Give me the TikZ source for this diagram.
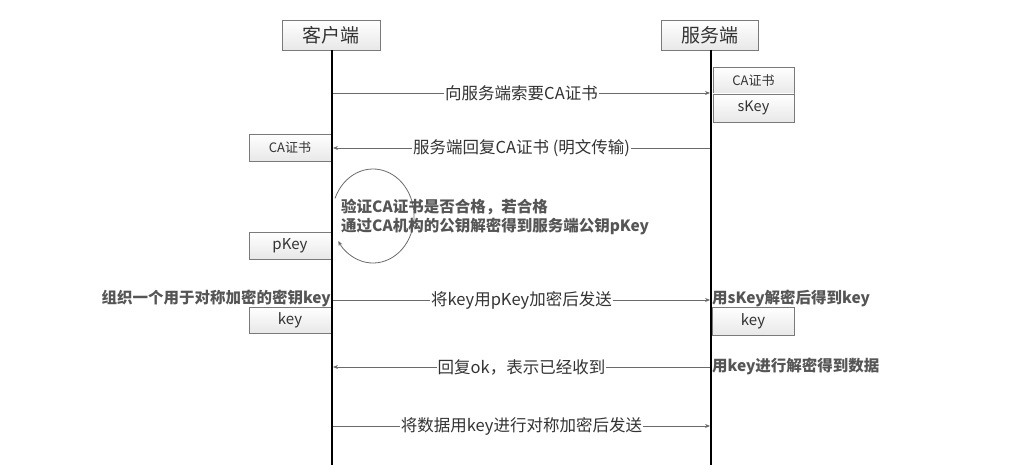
\documentclass[tikz,border=0pt]{standalone}
\usepackage{fontspec}
\setmainfont{Noto Sans CJK SC}
\newfontfamily\cjk{Noto Sans CJK SC}
\usetikzlibrary{arrows.meta,shadows}
\definecolor{boxline}{HTML}{7A7A7A}
\definecolor{boxbot}{HTML}{E8E8E8}
\definecolor{msgline}{HTML}{6A6A6A}
\definecolor{msgtext}{HTML}{333333}
\definecolor{notetext}{HTML}{555555}
\tikzset{
  objbox/.style={draw=boxline, line width=0.8pt, top color=white, bottom color=boxbot,
    drop shadow={opacity=0.25, shadow xshift=1pt, shadow yshift=-1pt},
    inner sep=0pt, text=msgtext, font=\cjk},
  lifeline/.style={line width=2pt, black},
  msg/.style={draw=msgline, line width=0.8pt, -{Stealth[length=5pt,width=4pt]}},
  msglabel/.style={fill=white, inner sep=1pt, text=msgtext, font=\cjk\fontsize{16.5}{18}\selectfont},
  note/.style={inner sep=0pt, text=notetext, font=\cjk\bfseries\fontsize{15.5}{19}\selectfont, align=left}
}
\begin{document}
\begin{tikzpicture}[x=1pt,y=-1pt]
\useasboundingbox (0,0) rectangle (1010,473);
% headers
\node[objbox, minimum width=98pt, minimum height=30pt, font=\cjk\fontsize{19}{20}\selectfont] (client) at (331,35) {客户端};
\node[objbox, minimum width=97pt, minimum height=30pt, font=\cjk\fontsize{19}{20}\selectfont] (server) at (709.5,35) {服务端};
% server side boxes
\node[objbox, minimum width=81pt, minimum height=27pt, font=\cjk\fontsize{13}{14}\selectfont] (sCA) at (753.5,80.5) {CA证书};
\node[objbox, minimum width=81pt, minimum height=28pt, font=\cjk\fontsize{14.5}{15}\selectfont] (sKey) at (753.5,108) {sKey};
\node[objbox, minimum width=82pt, minimum height=28pt, font=\cjk\fontsize{15}{16}\selectfont] (sK) at (753,321) {key};
% client side boxes
\node[objbox, minimum width=82pt, minimum height=27pt, font=\cjk\fontsize{13}{14}\selectfont] (cCA) at (290,147.5) {CA证书};
\node[objbox, minimum width=82pt, minimum height=27pt, font=\cjk\fontsize{15}{16}\selectfont] (pKey) at (290,245.5) {pKey};
\node[objbox, minimum width=82pt, minimum height=26pt, font=\cjk\fontsize{15}{16}\selectfont] (cK) at (290,320) {key};
% lifelines
\coordinate (cEnd) at (332,465);
\coordinate (sEnd) at (711,465);
\draw[lifeline] (332,50) -- (cEnd);
\draw[lifeline] (711,50) -- (sEnd);
% message anchor points
\coordinate (c1) at (333,93);  \coordinate (s1) at (710,93);
\coordinate (c2) at (333,148); \coordinate (s2) at (710,148);
\coordinate (c3) at (333,300); \coordinate (s3) at (710,300);
\coordinate (c4) at (333,367); \coordinate (s4) at (710,367);
\coordinate (c5) at (333,426); \coordinate (s5) at (710,426);
\draw[msg] (c1) -- node[msglabel] (m1) {向服务端索要CA证书} (s1);
\draw[msg] (s2) -- node[msglabel] (m2) {服务端回复CA证书 (明文传输)} (c2);
\draw[msg] (c3) -- node[msglabel] (m3) {将key用pKey加密后发送} (s3);
\draw[msg] (s4) -- node[msglabel] (m4) {回复ok，表示已经收到} (c4);
\draw[msg] (c5) -- node[msglabel] (m5) {将数据用key进行对称加密后发送} (s5);
% self loop
\coordinate (loopS) at (335,198.4);
\draw[msg] (loopS) arc[start angle=202, end angle=508, x radius=41, y radius=47];
% notes
\node[note, anchor=west] (n1) at (341,216.5) {验证CA证书是否合格，若合格\\通过CA机构的公钥解密得到服务端公钥pKey};
\node[note, anchor=east] (n2) at (331,298.5) {组织一个用于对称加密的密钥key};
\node[note, anchor=west] (n3) at (712,298.5) {用sKey解密后得到key};
\node[note, anchor=west] (n4) at (712,366) {用key进行解密得到数据};
\end{tikzpicture}
\end{document}
